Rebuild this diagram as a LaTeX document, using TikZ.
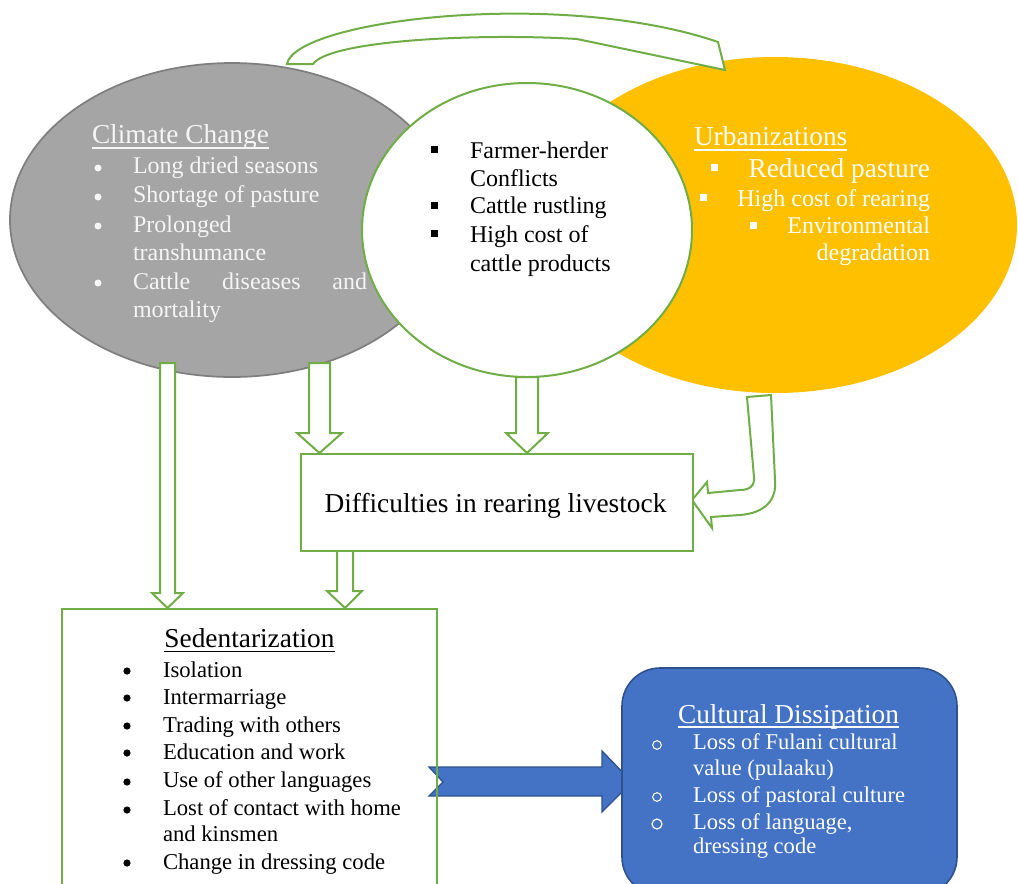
\documentclass[tikz,border=0pt]{standalone}
\usepackage{fontspec}
\setmainfont{Liberation Serif}
\usetikzlibrary{calc}
\definecolor{grn}{HTML}{70AD47}
\definecolor{gryfill}{HTML}{A5A5A5}
\definecolor{grydraw}{HTML}{7F7F7F}
\definecolor{yel}{HTML}{FFC000}
\definecolor{blu}{HTML}{4472C4}
\definecolor{bludraw}{HTML}{2F528F}
\definecolor{wtxt}{HTML}{F5F5F5}
\newcommand\sizeTitle{\fontsize{20.5pt}{24pt}\selectfont}
\newcommand\sizeList{\fontsize{18pt}{21pt}\selectfont}
\newcommand\sizeSmall{\fontsize{17pt}{20pt}\selectfont}
\newcommand\sizeCult{\fontsize{16.9pt}{20pt}\selectfont}
\begin{document}
\begin{tikzpicture}[x=0.75pt,y=-0.75pt,
  txt/.style={anchor=base west, inner sep=0pt, outer sep=0pt},
  txte/.style={anchor=base east, inner sep=0pt, outer sep=0pt},
  blockarrow/.style={draw=grn, fill=white, line width=1.5pt, line join=miter},
  uline/.style={line width=1.1pt}]
\useasboundingbox (0,0) rectangle (1018,883);
\fill[white] (0,0) rectangle (1018,883);

% ellipses
\draw[fill=gryfill, draw=grydraw, line width=1.3pt] (232,220) ellipse [x radius=222, y radius=157];
\fill[yel] (775,225) ellipse [x radius=242, y radius=168];
\draw[fill=white, draw=grn, line width=1.5pt] (527,230) ellipse [x radius=165, y radius=147];

% top curved arrow
\draw[blockarrow] (287,64) .. controls (295,20) and (560,-12) .. (718,42) -- (725,70) -- (577,39)
   .. controls (480,33) and (330,40) .. (313,64) -- cycle;

% vertical block arrows
\draw[blockarrow] (160,363) -- (175,363) -- (175,593) -- (183,593) -- (167.5,608) -- (152,593) -- (160,593) -- cycle;
\draw[blockarrow] (309,363) -- (330,363) -- (330,433) -- (342,433) -- (319.5,453) -- (297,433) -- (309,433) -- cycle;
\draw[blockarrow] (516,377) -- (538,377) -- (538,433) -- (548,433) -- (527,453) -- (506,433) -- (516,433) -- cycle;
\draw[blockarrow] (337,549) -- (353,549) -- (353,591) -- (362,591) -- (345,608) -- (327,591) -- (337,591) -- cycle;
% curved arrow from urbanization
\draw[blockarrow] (747,397) -- (754,477) .. controls (755,487) and (748,490) .. (740,490) -- (708,493) -- (707,482)
  -- (692,500) -- (712,528) -- (711,517) -- (740,515) .. controls (765,513) and (777,500) .. (775,480) -- (771,395) -- cycle;

% Difficulties box
\node[draw=grn, line width=1.5pt, fill=white, minimum width=294pt, minimum height=72.75pt, inner sep=0pt, anchor=north west] (diff) at (300,453) {};
\node[anchor=base, inner sep=0pt] (difftxt) at (495.5,512) {\sizeTitle Difficulties in rearing livestock};

% blue arrow
\draw[fill=blu, draw=bludraw, line width=1pt] (429,767) -- (602,767) -- (602,751) -- (632,782) -- (602,812) -- (602,796) -- (429,796) -- (443,782) -- cycle;

% Sedentarization box
\draw[draw=grn, line width=1.5pt] (62,900) -- (62,609) -- (437,609) -- (437,900);
% Cultural box
\draw[fill=blu, draw=bludraw, line width=1.2pt, rounded corners=28.5pt] (622,895) rectangle (957,668);

% Climate text
\begin{scope}[wtxt]
\node[txt, text=wtxt] (cc) at (92,143) {\sizeTitle Climate Change};
\draw[uline, wtxt] ([yshift=-3.75pt]cc.base west) -- ([yshift=-3.75pt]cc.base east);
\foreach \y in {168,197,226,283} \fill[wtxt] (98,\y) circle [radius=3.5];
\node[txt, text=wtxt] (c1) at (133,173) {\sizeList Long dried seasons};
\node[txt, text=wtxt] (c2) at (133,202) {\sizeList Shortage of pasture};
\node[txt, text=wtxt] (c3) at (133,232) {\sizeList Prolonged};
\node[txt, text=wtxt] (c4) at (133,260) {\sizeList transhumance};
\node[txt, text=wtxt] (c5) at (133,289) {\sizeList \hbox to 175.5pt{Cattle\hfill diseases\hfill and}};
\node[txt, text=wtxt] (c6) at (133,317) {\sizeList mortality};
\end{scope}

% centre circle text
\foreach \y in {149,205,233} \fill[black] (430.5,\y-3.5) rectangle ++(7,7);
\node[txt] (m1) at (470,158) {\sizeList Farmer-herder};
\node[txt] (m2) at (470,186) {\sizeList Conflicts};
\node[txt] (m3) at (470,213) {\sizeList Cattle rustling};
\node[txt] (m4) at (470,242) {\sizeList High cost of};
\node[txt] (m5) at (470,271) {\sizeList cattle products};

% Urbanization text
\node[txt, text=white] (ur) at (694,145) {\sizeTitle Urbanizations};
\draw[uline, white] ([yshift=-3.75pt]ur.base west) -- ([yshift=-3.75pt]ur.base east);
\fill[white] (710.5,163.5) rectangle ++(7,7);
\fill[white] (699.5,193.5) rectangle ++(7,7);
\fill[white] (749.5,221.5) rectangle ++(7,7);
\node[txte, text=white] (u1) at (930,177) {\sizeTitle Reduced pasture};
\node[txte, text=white] (u2) at (930,206) {\sizeList High cost of rearing};
\node[txte, text=white] (u3) at (930,233) {\sizeList Environmental};
\node[txte, text=white] (u4) at (930,260) {\sizeList degradation};

% Sedentarization text
\node[anchor=base, inner sep=0pt] (sd) at (249.5,647) {\sizeTitle Sedentarization};
\draw[uline, black] ([yshift=-3.5pt]sd.base west) -- ([yshift=-3.5pt]sd.base east);
\foreach \y in {671,698,726,753,782,810,863} \fill[black] (127,\y) circle [radius=3.6];
\node[txt] (s1) at (163,677) {\sizeSmall Isolation};
\node[txt] (s2) at (163,704) {\sizeSmall Intermarriage};
\node[txt] (s3) at (163,732) {\sizeSmall Trading with others};
\node[txt] (s4) at (163,759) {\sizeSmall Education and work};
\node[txt] (s5) at (163,787) {\sizeSmall Use of other languages};
\node[txt] (s6) at (163,815) {\sizeSmall Lost of contact with home};
\node[txt] (s7) at (163,841) {\sizeSmall and kinsmen};
\node[txt] (s8) at (163,869) {\sizeSmall Change in dressing code};

% Cultural text
\node[anchor=base, inner sep=0pt, text=white] (cd) at (788.5,723) {\sizeTitle Cultural Dissipation};
\draw[uline, white] ([yshift=-3pt]cd.base west) -- ([yshift=-3pt]cd.base east);
\draw[white, line width=0.8pt] (657,745) circle [radius=4.3];
\draw[white, line width=0.8pt] (657,797) circle [radius=4.3];
\draw[white, line width=0.9pt] (657,824) circle [radius=5];
\node[txt, text=white] (k1) at (693,749) {\sizeCult Loss of Fulani cultural};
\node[txt, text=white] (k2) at (693,775) {\sizeCult value (pulaaku)};
\node[txt, text=white] (k3) at (693,802) {\sizeCult Loss of pastoral culture};
\node[txt, text=white] (k4) at (693,829) {\sizeCult Loss of language,};
\node[txt, text=white] (k5) at (693,853) {\sizeCult dressing code};
\end{tikzpicture}
\end{document}
